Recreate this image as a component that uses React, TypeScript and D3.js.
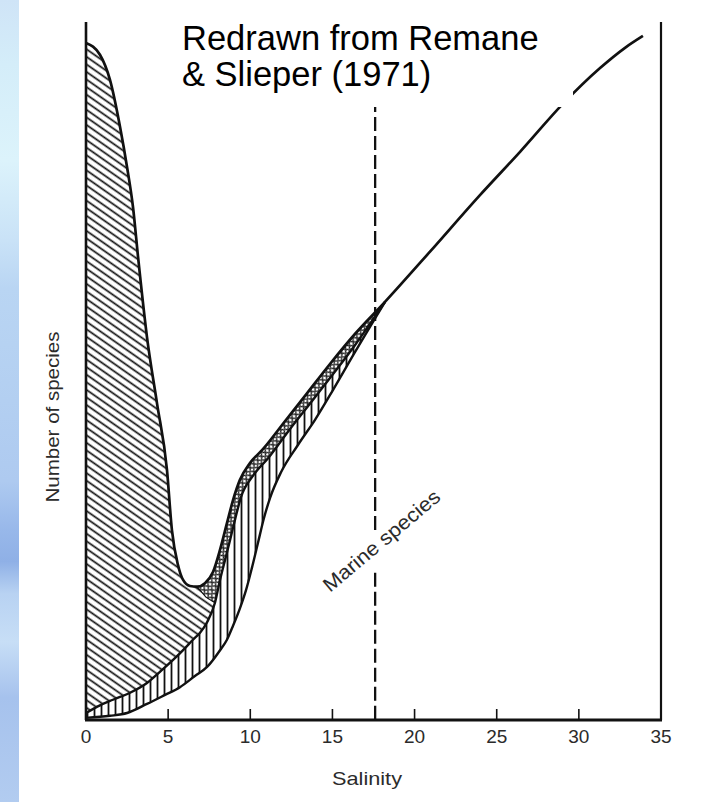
import React from "react";
import * as d3 from "d3";

// salinity axis
const salinityTicks = [0, 5, 10, 15, 20, 25, 30, 35];
const innerTicks = [5, 10, 15, 20, 25, 30];

// upper outline: freshwater curve, then brackish band top, then marine line
const topSal = [0, 0.85, 1.46, 2.07, 2.5, 2.86, 3.17, 3.71, 4.32, 4.93, 5.23, 5.6, 5.9, 6.33, 6.76, 7.24, 7.73, 8.16, 8.58, 8.95, 9.37, 9.98, 10.77, 12.11, 13.45, 14.85, 16.37, 18.2, 20.94, 23.98, 26.42, 29.04, 31.29, 32.81, 33.9];
const topVal = [97.0, 95.3, 91.7, 85.0, 79.2, 73.5, 66.3, 54.9, 45.4, 35.8, 27.2, 22.2, 20.1, 19.2, 19.1, 19.6, 21.2, 24.4, 28.2, 31.5, 34.4, 36.8, 38.8, 42.8, 46.8, 51.0, 55.3, 59.9, 67.1, 75.2, 81.4, 88.3, 93.4, 96.3, 98.0];

// middle curve: top of the vertically hatched band
const midSal = [0, 0.85, 1.64, 2.68, 3.71, 4.5, 5.3, 6.03, 6.51, 6.94, 7.37, 7.85, 8.16, 8.46, 8.77, 9.07, 9.43, 10.17, 11.08, 12.42, 13.76, 14.85, 16.37, 18.2];
const midVal = [1.0, 2.1, 2.9, 3.9, 5.3, 6.9, 8.6, 10.3, 11.5, 12.5, 14.0, 16.8, 20.1, 22.9, 25.8, 28.7, 31.9, 35.0, 37.5, 41.7, 45.7, 49.0, 53.7, 59.9];

// lower curve: marine species
const lowSal = [0, 1.46, 2.5, 3.71, 4.81, 5.72, 6.63, 7.37, 8.16, 8.58, 8.95, 9.37, 9.74, 10.1, 10.47, 10.83, 11.2, 11.87, 12.9, 13.94, 15.04, 16.37, 18.2];
const lowVal = [0.3, 0.6, 1.0, 2.3, 3.6, 4.7, 6.3, 7.6, 10.0, 11.5, 13.5, 16.0, 18.6, 21.8, 25.4, 28.9, 31.8, 35.5, 39.4, 43.0, 47.3, 52.7, 59.9];

// edge between freshwater hatch and the dotted band, below the dip
const splitSal = [6.76, 7.3, 7.85];
const splitVal = [19.1, 17.6, 16.8];

const dipSal = 6.76;
const meetSal = 18.2;
const marineLine = 17.6;
const dashGap = [21.1, 26.8];

type P = [number, number];
const pts = (s: number[], v: number[]): P[] => s.map((d, i) => [d, v[i]]);

export default function App() {
  const x = d3.scaleLinear().domain([0, 35]).range([86, 661]);
  const y = d3.scaleLinear().domain([0, 100]).range([720, 22]);

  const top = pts(topSal, topVal);
  const mid = pts(midSal, midVal);
  const low = pts(lowSal, lowVal);
  const split = pts(splitSal, splitVal);

  const line = d3.line<P>().x(d => x(d[0])).y(d => y(d[1])).curve(d3.curveMonotoneX);
  const under = d3.area<P>().x(d => x(d[0])).y0(y(0)).y1(d => y(d[1])).curve(d3.curveMonotoneX);
  const straight = d3.line<P>().x(d => x(d[0])).y(d => y(d[1]));

  const dotted = top.filter(d => d[0] >= dipSal && d[0] <= meetSal);
  const fresh = top.filter(d => d[0] < dipSal).concat(split);

  const blueStops: [number, string][] = [
    [0, "#cfe4f7"], [0.08, "#d4edf9"], [0.2, "#dcf3fb"], [0.3, "#c9e2f7"], [0.36, "#b9d5f3"],
    [0.5, "#b3cff1"], [0.6, "#aecaf0"], [0.66, "#98b8ea"], [0.7, "#8fb0e6"], [0.74, "#b8d2f2"],
    [0.8, "#c7def6"], [0.87, "#a6c2ed"], [1, "#b2ccf0"],
  ];

  const ink = "#111";
  const txt = "#2b2b2b";

  return (
    <svg width={720} height={802} style={{ position: "absolute", left: 0, top: 0 }}
      fontFamily="'Liberation Sans', Arial, sans-serif">
      <defs>
        <linearGradient id="strip" x1="0" y1="0" x2="0" y2="1">
          {blueStops.map(([o, c]) => <stop key={o} offset={o} stopColor={c} />)}
        </linearGradient>
        <pattern id="diag" patternUnits="userSpaceOnUse" width={8} height={6.2} patternTransform="rotate(35)">
          <rect width={8} height={6.2} fill="#fff" />
          <line x1={0} y1={3.1} x2={8} y2={3.1} stroke={ink} strokeWidth={1.7} />
        </pattern>
        <pattern id="vert" patternUnits="userSpaceOnUse" width={7} height={8}>
          <rect width={7} height={8} fill="#fff" />
          <line x1={3.5} y1={0} x2={3.5} y2={8} stroke={ink} strokeWidth={1.8} />
        </pattern>
        <pattern id="dots" patternUnits="userSpaceOnUse" width={5.4} height={5.4} patternTransform="rotate(-45)">
          <rect width={5.4} height={5.4} fill="#fff" />
          <circle cx={2.7} cy={2.7} r={2.0} fill="#fff" stroke={ink} strokeWidth={1.2} />
        </pattern>
      </defs>

      <rect width={720} height={802} fill="#fff" />
      <rect x={0} y={0} width={19} height={802} fill="url(#strip)" />

      {/* stacked bands */}
      <path d={under(dotted) ?? ""} fill="url(#dots)" />
      <path d={under(fresh) ?? ""} fill="url(#diag)" />
      <path d={under(mid) ?? ""} fill="url(#vert)" />
      <path d={under(low) ?? ""} fill="#fff" />

      {/* outlines */}
      <path d={line(top) ?? ""} fill="none" stroke={ink} strokeWidth={2.7} strokeLinejoin="round" />
      <path d={line(mid) ?? ""} fill="none" stroke={ink} strokeWidth={2.4} />
      <path d={line(low) ?? ""} fill="none" stroke={ink} strokeWidth={2.4} />
      <path d={straight(split) ?? ""} fill="none" stroke={ink} strokeWidth={1.2} />

      {/* frame */}
      <line x1={x(0)} y1={y(100)} x2={x(0)} y2={y(0)} stroke={ink} strokeWidth={2.6} />
      <line x1={x(35)} y1={y(100)} x2={x(35)} y2={y(0)} stroke={ink} strokeWidth={2.2} />
      <line x1={x(0) - 1} y1={y(0)} x2={x(35) + 1} y2={y(0)} stroke={ink} strokeWidth={2.8} />
      {innerTicks.map(t => (
        <line key={t} x1={x(t)} x2={x(t)} y1={y(0)} y2={y(0) - 11} stroke={ink} strokeWidth={1.6} />
      ))}
      {salinityTicks.map(t => (
        <text key={t} x={x(t)} y={y(0) + 23} textAnchor="middle" fontSize={19} fill={txt}>{t}</text>
      ))}

      {/* marine species boundary */}
      <line x1={x(marineLine)} x2={x(marineLine)} y1={y(100)} y2={y(dashGap[1])}
        stroke={ink} strokeWidth={2.3} strokeDasharray="14 5" />
      <line x1={x(marineLine)} x2={x(marineLine)} y1={y(dashGap[0])} y2={y(0)}
        stroke={ink} strokeWidth={2.3} strokeDasharray="14 5" />
      <text transform={`translate(${x(14.85)},${y(18.2)}) rotate(-40)`} fontSize={20} fill={txt}
        textLength={146} lengthAdjust="spacingAndGlyphs">Marine species</text>

      {/* axis titles */}
      <text x={367} y={785} textAnchor="middle" fontSize={19} fill={txt}
        textLength={70} lengthAdjust="spacingAndGlyphs">Salinity</text>
      <text transform="translate(59,417) rotate(-90)" textAnchor="middle" fontSize={19} fill={txt}
        textLength={171} lengthAdjust="spacingAndGlyphs">Number of species</text>

      {/* source note */}
      <rect x={176} y={0} width={397} height={107} fill="#fff" />
      <text x={182} y={50} fontSize={34.5} fill="#000">Redrawn from Remane</text>
      <text x={182} y={86} fontSize={34.5} fill="#000">&amp; Slieper (1971)</text>
    </svg>
  );
}
